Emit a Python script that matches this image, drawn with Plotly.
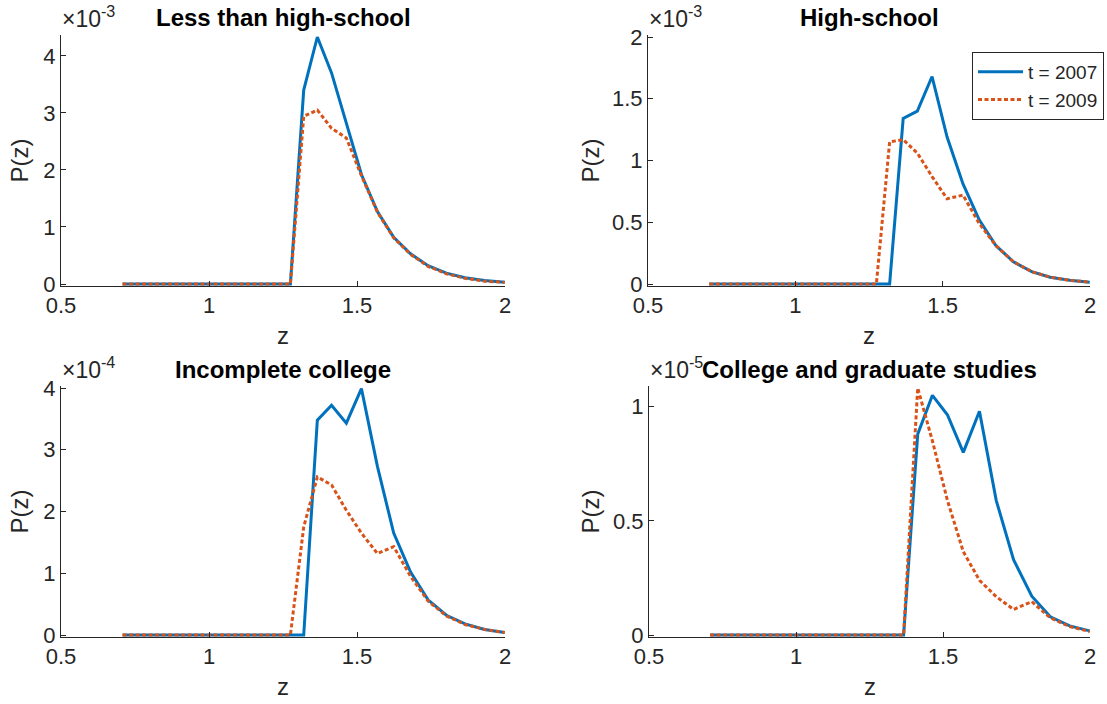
import plotly.graph_objects as go

W, H = 1107, 704

# Grid of z values (shared by all panels)
z = [0.708, 0.733, 0.759, 0.785, 0.813, 0.842, 0.871, 0.902, 0.934, 0.967,
     1.001, 1.036, 1.072, 1.110, 1.149, 1.190, 1.231, 1.275, 1.320, 1.366,
     1.414, 1.464, 1.515, 1.569, 1.624, 1.681, 1.740, 1.802, 1.865, 1.931, 1.999]

# P(z) for each education group, years 2007 and 2009
less_hs_2007 = [0, 0, 0, 0, 0, 0, 0, 0, 0, 0, 0, 0, 0, 0, 0, 0, 0, 0,
                3.40e-3, 4.33e-3, 3.70e-3, 2.80e-3, 1.92e-3, 1.27e-3, 0.82e-3,
                0.53e-3, 0.32e-3, 0.19e-3, 0.11e-3, 0.06e-3, 0.03e-3]
less_hs_2009 = [0, 0, 0, 0, 0, 0, 0, 0, 0, 0, 0, 0, 0, 0, 0, 0, 0, 0,
                2.94e-3, 3.05e-3, 2.73e-3, 2.56e-3, 1.90e-3, 1.26e-3, 0.81e-3,
                0.52e-3, 0.31e-3, 0.18e-3, 0.10e-3, 0.05e-3, 0.03e-3]

hs_2007 = [0, 0, 0, 0, 0, 0, 0, 0, 0, 0, 0, 0, 0, 0, 0, 0, 0, 0,
           0, 1.34e-3, 1.40e-3, 1.68e-3, 1.19e-3, 0.81e-3, 0.52e-3,
           0.31e-3, 0.18e-3, 0.10e-3, 0.055e-3, 0.03e-3, 0.015e-3]
hs_2009 = [0, 0, 0, 0, 0, 0, 0, 0, 0, 0, 0, 0, 0, 0, 0, 0, 0, 0,
           1.15e-3, 1.17e-3, 1.06e-3, 0.87e-3, 0.69e-3, 0.72e-3, 0.49e-3,
           0.31e-3, 0.18e-3, 0.10e-3, 0.055e-3, 0.03e-3, 0.015e-3]

inc_col_2007 = [0, 0, 0, 0, 0, 0, 0, 0, 0, 0, 0, 0, 0, 0, 0, 0, 0, 0,
                0, 3.48e-4, 3.72e-4, 3.43e-4, 3.99e-4, 2.73e-4, 1.65e-4,
                1.02e-4, 0.57e-4, 0.32e-4, 0.18e-4, 0.09e-4, 0.04e-4]
inc_col_2009 = [0, 0, 0, 0, 0, 0, 0, 0, 0, 0, 0, 0, 0, 0, 0, 0, 0, 0,
                1.75e-4, 2.56e-4, 2.43e-4, 2.02e-4, 1.65e-4, 1.32e-4, 1.43e-4,
                0.95e-4, 0.55e-4, 0.31e-4, 0.17e-4, 0.09e-4, 0.04e-4]

col_grad_2007 = [0, 0, 0, 0, 0, 0, 0, 0, 0, 0, 0, 0, 0, 0, 0, 0, 0, 0,
                 0, 0, 0.88e-5, 1.05e-5, 0.965e-5, 0.80e-5, 0.98e-5,
                 0.59e-5, 0.33e-5, 0.17e-5, 0.08e-5, 0.04e-5, 0.018e-5]
col_grad_2009 = [0, 0, 0, 0, 0, 0, 0, 0, 0, 0, 0, 0, 0, 0, 0, 0, 0, 0,
                 0, 0, 1.082e-5, 0.85e-5, 0.59e-5, 0.365e-5, 0.24e-5,
                 0.168e-5, 0.112e-5, 0.146e-5, 0.075e-5, 0.037e-5, 0.015e-5]

titles = ["Less than high-school", "High-school",
          "Incomplete college", "College and graduate studies"]
x_ticks = [0.5, 1, 1.5, 2]
x_tick_text = ["0.5", "1", "1.5", "2"]

BLUE = "#0072BD"
RED = "#D95319"
INK = "#262626"
FONT = "Liberation Sans, Arial, sans-serif"

panels = [
    dict(title=titles[0], y07=less_hs_2007, y09=less_hs_2009, ymax=4.33e-3,
         ticks=[0, 1e-3, 2e-3, 3e-3, 4e-3], text=["0", "1", "2", "3", "4"],
         expo="-3", box=(61, 505, 37, 284), ylab_x=19),
    dict(title=titles[1], y07=hs_2007, y09=hs_2009, ymax=2e-3,
         ticks=[0, 0.5e-3, 1e-3, 1.5e-3, 2e-3], text=["0", "0.5", "1", "1.5", "2"],
         expo="-3", box=(648, 1090, 37, 284), ylab_x=590),
    dict(title=titles[2], y07=inc_col_2007, y09=inc_col_2009, ymax=4e-4,
         ticks=[0, 1e-4, 2e-4, 3e-4, 4e-4], text=["0", "1", "2", "3", "4"],
         expo="-4", box=(61, 505, 388, 635), ylab_x=19),
    dict(title=titles[3], y07=col_grad_2007, y09=col_grad_2009, ymax=1.082e-5,
         ticks=[0, 0.5e-5, 1e-5], text=["0", "0.5", "1"],
         expo="-5", box=(649, 1090, 388, 635), ylab_x=590),
]

fig = go.Figure()
annotations = []
PAD = 2  # px of breathing room so thick lines at the limits are not clipped

for i, p in enumerate(panels, start=1):
    left, right, top, bottom = p["box"]
    h = bottom - top
    d = PAD * p["ymax"] / h
    xa = "x" if i == 1 else f"x{i}"
    ya = "y" if i == 1 else f"y{i}"
    xkey = "xaxis" if i == 1 else f"xaxis{i}"
    ykey = "yaxis" if i == 1 else f"yaxis{i}"

    fig.add_trace(go.Scatter(x=z, y=p["y07"], mode="lines", name="t = 2007",
                             line=dict(color=BLUE, width=3),
                             showlegend=(i == 2), xaxis=xa, yaxis=ya))
    fig.add_trace(go.Scatter(x=z, y=p["y09"], mode="lines", name="t = 2009",
                             line=dict(color=RED, width=3, dash="4px,2.5px"),
                             showlegend=(i == 2), xaxis=xa, yaxis=ya))

    common = dict(showline=True, linecolor=INK, linewidth=1,
                  ticks="inside", ticklen=5, tickcolor=INK,
                  showgrid=False, zeroline=False, automargin=False,
                  tickfont=dict(family=FONT, size=22, color=INK))
    fig.update_layout({
        xkey: dict(domain=[left / W, right / W], range=[0.5, 2],
                   anchor=ya, tickvals=x_ticks, ticktext=x_tick_text, **common),
        ykey: dict(domain=[1 - (bottom + PAD) / H, 1 - (top - PAD) / H],
                   range=[-d, p["ymax"] + d], anchor=xa,
                   tickvals=p["ticks"], ticktext=p["text"], **common),
    })

    cx = (left + right) / 2 / W
    # panel title
    annotations.append(dict(text=f"<b>{p['title']}</b>", x=cx, y=1 - (top - 19) / H,
                            xref="paper", yref="paper", showarrow=False,
                            xanchor="center", yanchor="middle",
                            font=dict(family=FONT, size=24, color="#000000")))
    # exponent multiplier
    annotations.append(dict(text=f"×10<sup>{p['expo']}</sup>", x=(left - 1) / W,
                            y=1 - (top - 3) / H, xref="paper", yref="paper",
                            showarrow=False, xanchor="left", yanchor="bottom",
                            font=dict(family=FONT, size=23, color=INK)))
    # axis labels
    annotations.append(dict(text="z", x=cx, y=1 - (bottom + 51) / H,
                            xref="paper", yref="paper", showarrow=False,
                            xanchor="center", yanchor="middle",
                            font=dict(family=FONT, size=24, color=INK)))
    annotations.append(dict(text="P(z)", x=p["ylab_x"] / W,
                            y=1 - (top + bottom) / 2 / H, textangle=-90,
                            xref="paper", yref="paper", showarrow=False,
                            xanchor="center", yanchor="middle",
                            font=dict(family=FONT, size=24, color=INK)))

fig.update_layout(
    width=W, height=H,
    margin=dict(l=0, r=0, t=0, b=0),
    paper_bgcolor="white", plot_bgcolor="white",
    annotations=annotations,
    showlegend=True,
    legend=dict(x=972 / W, y=1 - 52 / H, xanchor="left", yanchor="top",
                bgcolor="white", bordercolor=INK, borderwidth=1,
                font=dict(family=FONT, size=19, color=INK),
                itemwidth=45, tracegroupgap=0),
)

fig.write_html("out.html")
